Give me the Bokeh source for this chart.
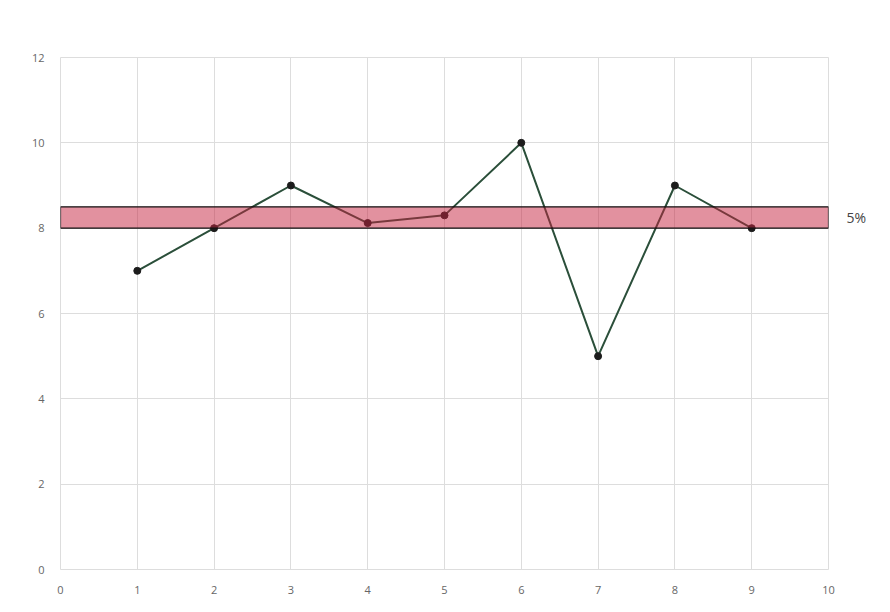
from bokeh.plotting import figure
from bokeh.models import ColumnDataSource, BoxAnnotation, FixedTicker, LinearAxis, Range1d
from bokeh.embed import file_html
from bokeh.resources import INLINE

x_vals = [1, 2, 3, 4, 5, 6, 7, 8, 9]
y_vals = [7, 8, 9, 8.12, 8.3, 10, 5, 9, 8]
band_bottom = 8.0
band_top = 8.5
band_label = "5%"
x_ticks = [0, 1, 2, 3, 4, 5, 6, 7, 8, 9, 10]
y_ticks = [0, 2, 4, 6, 8, 10, 12]

p = figure(width=874, height=596, x_range=(0, 10), y_range=(0, 12),
           output_backend="svg", toolbar_location=None,
           min_border_left=60, min_border_right=46, min_border_top=57, min_border_bottom=26)
p.outline_line_color = "#dddddd"
p.background_fill_color = "white"
p.border_fill_color = "white"

for ax in (p.xaxis, p.yaxis):
    ax.axis_line_color = None
    ax.major_tick_line_color = None
    ax.minor_tick_line_color = None
    ax.major_label_text_color = "#666666"
    ax.major_label_text_font_size = "11px"
    ax.major_label_text_font = "Open Sans"
p.xaxis.ticker = FixedTicker(ticks=x_ticks)
p.yaxis.ticker = FixedTicker(ticks=y_ticks)
p.xaxis.major_label_standoff = 10
p.yaxis.major_label_standoff = 10
p.xgrid.grid_line_color = "#dddddd"
p.ygrid.grid_line_color = "#dddddd"
p.xgrid.ticker = FixedTicker(ticks=x_ticks)
p.ygrid.ticker = FixedTicker(ticks=y_ticks)

src = ColumnDataSource(dict(x=x_vals, y=y_vals))
p.line("x", "y", source=src, line_color="#2b4f3a", line_width=2)
p.scatter("x", "y", source=src, size=7, fill_color="#1c1c1c", line_color="#1c1c1c")

band = BoxAnnotation(bottom=band_bottom, top=band_top, left=0, right=10,
                     fill_color="#c5243f", fill_alpha=0.5,
                     line_color="#111111", line_alpha=1.0, line_width=1.2, level="overlay")
p.add_layout(band)

mid = (band_bottom + band_top) / 2
p.extra_y_ranges = {"lab": Range1d(0, 12)}
rax = LinearAxis(y_range_name="lab", ticker=FixedTicker(ticks=[mid]),
                 major_label_overrides={mid: band_label})
rax.axis_line_color = None
rax.major_tick_line_color = None
rax.minor_tick_line_color = None
rax.major_label_standoff = 12
rax.major_label_text_font_size = "14px"
rax.major_label_text_color = "#444444"
rax.major_label_text_font = "Open Sans"
p.add_layout(rax, "right")

open("out.html", "w").write(file_html(p, INLINE))
